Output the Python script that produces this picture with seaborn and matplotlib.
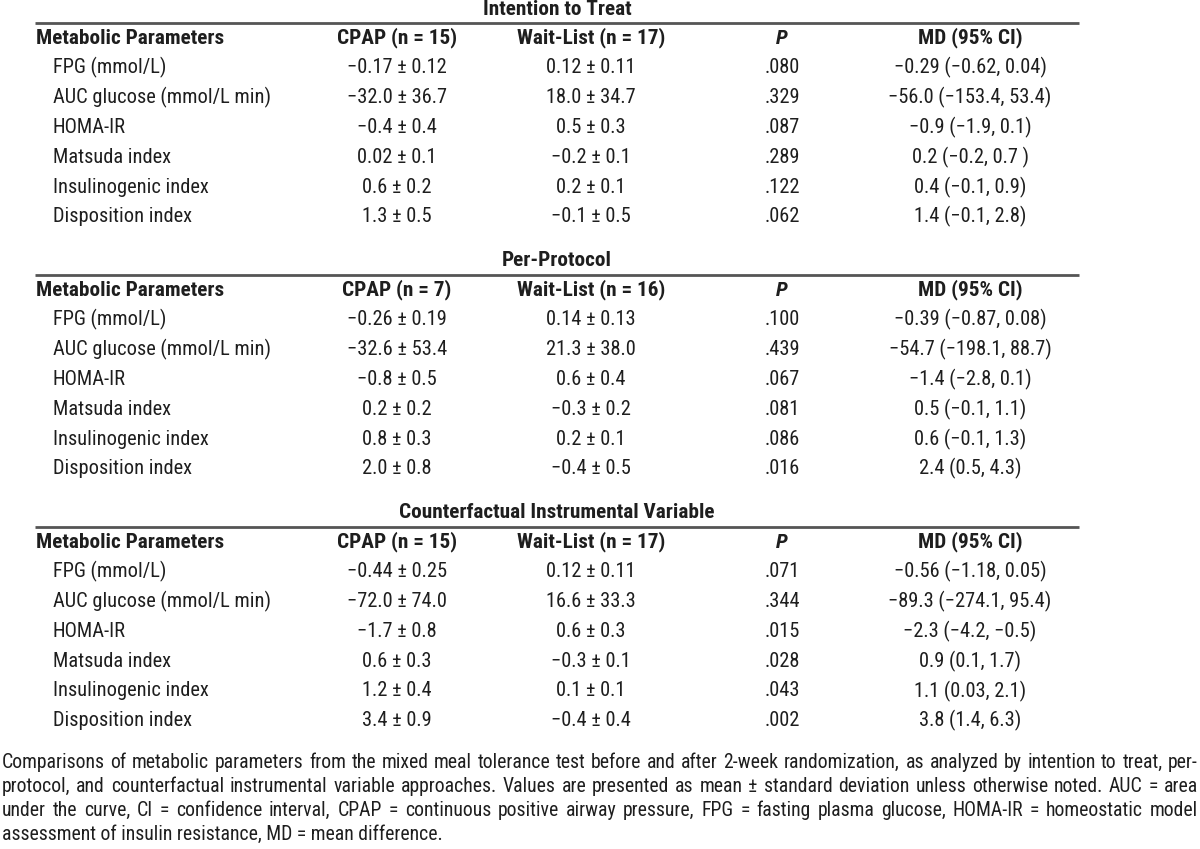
import matplotlib
matplotlib.use("Agg")
import matplotlib.pyplot as plt
import seaborn as sns

# table content
sections = ["Intention to Treat", "Per-Protocol", "Counterfactual Instrumental Variable"]
cpap_n = [15, 7, 15]
wait_n = [17, 16, 17]
params = ["FPG (mmol/L)", "AUC glucose (mmol/L min)", "HOMA-IR",
          "Matsuda index", "Insulinogenic index", "Disposition index"]

itt_cpap = ["−0.17 ± 0.12", "−32.0 ± 36.7", "−0.4 ± 0.4", "0.02 ± 0.1", "0.6 ± 0.2", "1.3 ± 0.5"]
itt_wait = ["0.12 ± 0.11", "18.0 ± 34.7", "0.5 ± 0.3", "−0.2 ± 0.1", "0.2 ± 0.1", "−0.1 ± 0.5"]
itt_p = [".080", ".329", ".087", ".289", ".122", ".062"]
itt_md = ["−0.29 (−0.62, 0.04)", "−56.0 (−153.4, 53.4)", "−0.9 (−1.9, 0.1)",
          "0.2 (−0.2, 0.7 )", "0.4 (−0.1, 0.9)", "1.4 (−0.1, 2.8)"]

pp_cpap = ["−0.26 ± 0.19", "−32.6 ± 53.4", "−0.8 ± 0.5", "0.2 ± 0.2", "0.8 ± 0.3", "2.0 ± 0.8"]
pp_wait = ["0.14 ± 0.13", "21.3 ± 38.0", "0.6 ± 0.4", "−0.3 ± 0.2", "0.2 ± 0.1", "−0.4 ± 0.5"]
pp_p = [".100", ".439", ".067", ".081", ".086", ".016"]
pp_md = ["−0.39 (−0.87, 0.08)", "−54.7 (−198.1, 88.7)", "−1.4 (−2.8, 0.1)",
         "0.5 (−0.1, 1.1)", "0.6 (−0.1, 1.3)", "2.4 (0.5, 4.3)"]

civ_cpap = ["−0.44 ± 0.25", "−72.0 ± 74.0", "−1.7 ± 0.8", "0.6 ± 0.3", "1.2 ± 0.4", "3.4 ± 0.9"]
civ_wait = ["0.12 ± 0.11", "16.6 ± 33.3", "0.6 ± 0.3", "−0.3 ± 0.1", "0.1 ± 0.1", "−0.4 ± 0.4"]
civ_p = [".071", ".344", ".015", ".028", ".043", ".002"]
civ_md = ["−0.56 (−1.18, 0.05)", "−89.3 (−274.1, 95.4)", "−2.3 (−4.2, −0.5)",
          "0.9 (0.1, 1.7)", "1.1 (0.03, 2.1)", "3.8 (1.4, 6.3)"]

footnote_lines = [
    "Comparisons of metabolic parameters from the mixed meal tolerance test before and after 2-week randomization, as analyzed by intention to treat, per-",
    "protocol, and counterfactual instrumental variable approaches. Values are presented as mean ± standard deviation unless otherwise noted. AUC = area",
    "under the curve, CI = confidence interval, CPAP = continuous positive airway pressure, FPG = fasting plasma glucose, HOMA-IR = homeostatic model",
    "assessment of insulin resistance, MD = mean difference.",
]

blocks = [(itt_cpap, itt_wait, itt_p, itt_md),
          (pp_cpap, pp_wait, pp_p, pp_md),
          (civ_cpap, civ_wait, civ_p, civ_md)]

sns.set_theme(style="white")
plt.rcParams['font.family'] = ['Roboto Condensed', 'DejaVu Sans']

fig = plt.figure(figsize=(12, 8.49), dpi=100)
ax = fig.add_axes([0, 0, 1, 1])
ax.set_xlim(0, 1200)
ax.set_ylim(849, 0)
ax.axis("off")
fig.canvas.draw()
renderer = fig.canvas.get_renderer()


def fit_size(s, target, **kw):
    # font size that gives the text the width measured on the reference
    t = ax.text(0, -100, s, fontsize=20, **kw)
    w = t.get_window_extent(renderer).width
    t.remove()
    return 20 * target / w


fs_b = fit_size("Metabolic Parameters", 178, fontweight="bold") * 1.05
fs = fit_size("AUC glucose (mmol/L min)", 207) * 1.05
fs_fn = fit_size(footnote_lines[-1], 442)

txt = "#1e1e1e"
col_x = [397, 591, 782, 970]
sec_top = [9, 261, 513]
row_h = 29.8

for s, (title, block) in enumerate(zip(sections, blocks)):
    y0 = sec_top[s]
    ax.text(557, y0, title, ha="center", va="center", fontsize=fs_b, fontweight="bold", color=txt)
    ax.hlines(y0 + 14, 35, 1079, color="#555555", lw=2)
    yh = y0 + 29
    ax.text(36, yh, "Metabolic Parameters", ha="left", va="center", fontsize=fs_b, fontweight="bold", color=txt)
    heads = [f"CPAP (n = {cpap_n[s]})", f"Wait-List (n = {wait_n[s]})", "P", "MD (95% CI)"]
    for j, h in enumerate(heads):
        ax.text(col_x[j], yh, h, ha="center", va="center", fontsize=fs_b, fontweight="bold",
                style="italic" if h == "P" else "normal", color=txt)
    for i, p in enumerate(params):
        y = yh + row_h * (i + 1)
        ax.text(53, y, p, ha="left", va="center", fontsize=fs, color=txt)
        for j, col in enumerate(block):
            ax.text(col_x[j], y, col[i], ha="center", va="center", fontsize=fs, color=txt)

# justified footnote
fn_y = [762, 786, 810, 834]
left, right = 2, 1198
for k, line in enumerate(footnote_lines):
    if k == len(footnote_lines) - 1:
        ax.text(left, fn_y[k], line, ha="left", va="center", fontsize=fs_fn, color=txt)
        continue
    words = line.split(" ")
    arts = [ax.text(0, fn_y[k], w, ha="left", va="center", fontsize=fs_fn, color=txt) for w in words]
    widths = [a.get_window_extent(renderer).width for a in arts]
    gap = (right - left - sum(widths)) / (len(words) - 1)
    x = left
    for a, w in zip(arts, widths):
        a.set_x(x)
        x += w + gap

fig.savefig("out.png", dpi=100, facecolor="white")
